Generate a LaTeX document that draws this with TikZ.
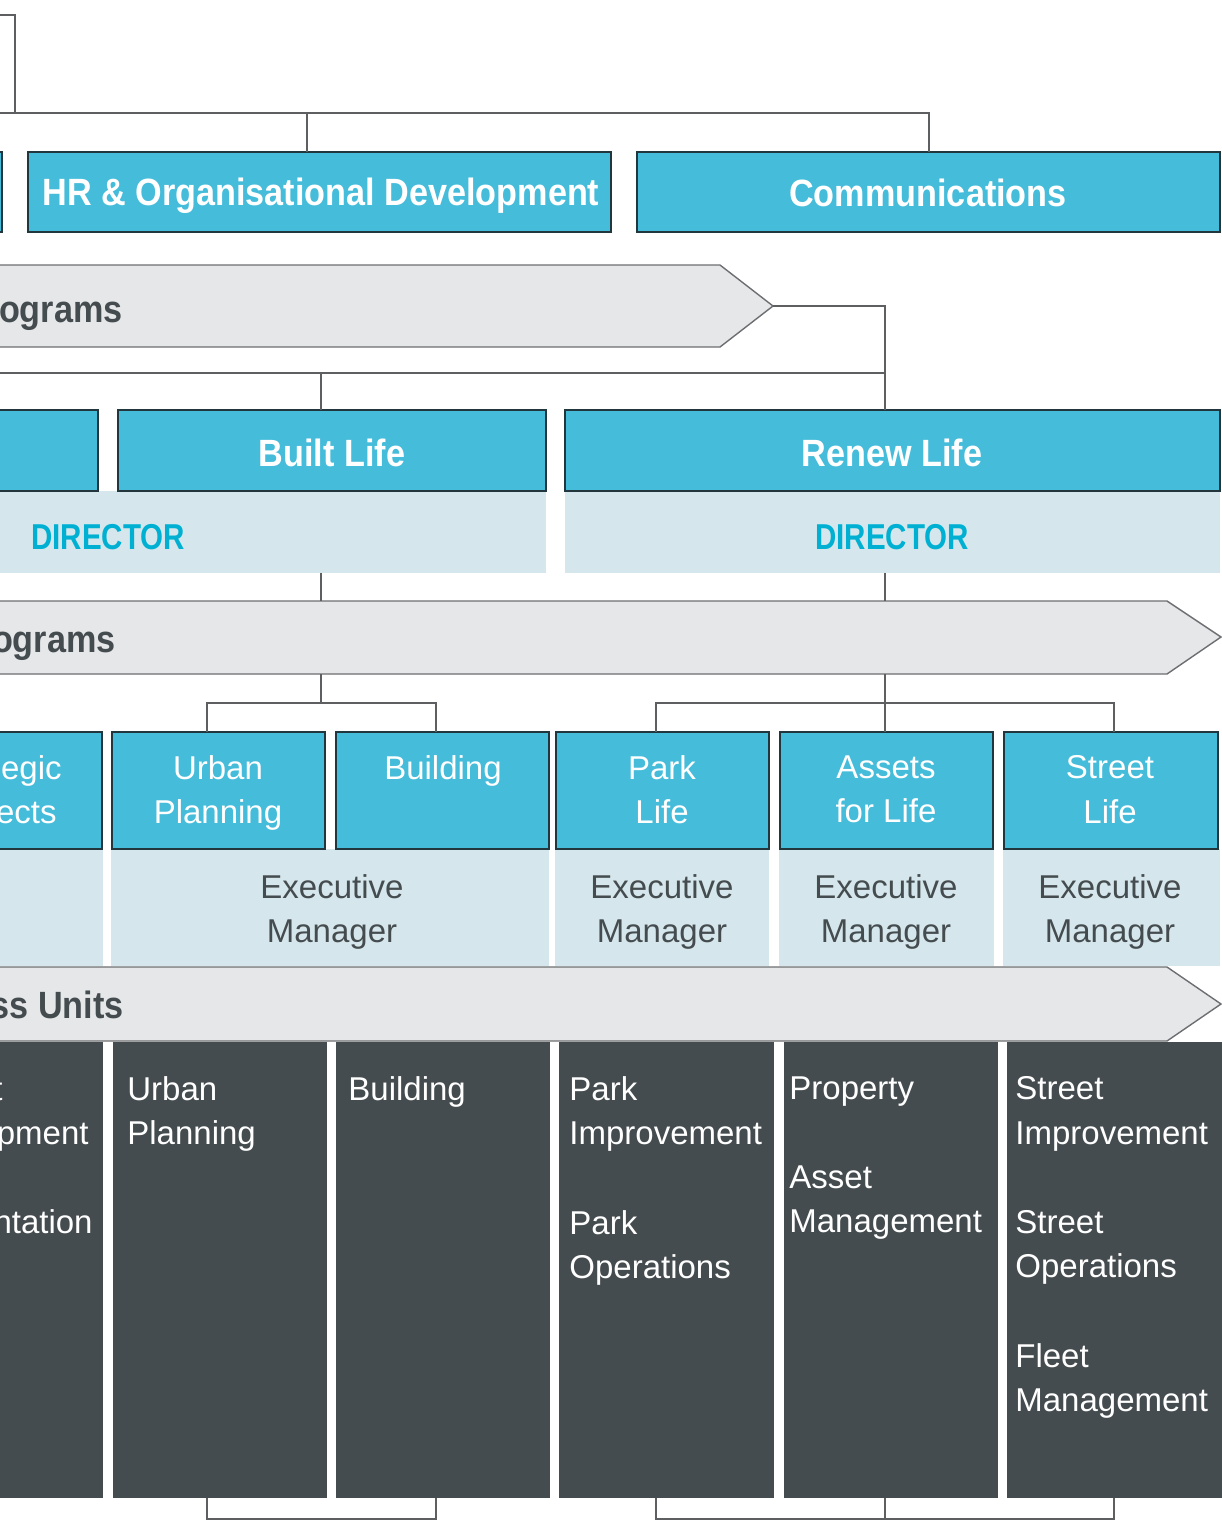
\documentclass[tikz,border=0pt]{standalone}
\usepackage{fontspec}
\setmainfont{Liberation Sans}
\newfontfamily\bcond[FakeStretch=0.9]{Liberation Sans}
\newfontfamily\dcond[FakeStretch=0.82]{Liberation Sans}
\definecolor{cblue}{HTML}{45BCDA}
\definecolor{cborder}{HTML}{22363D}
\definecolor{cband}{HTML}{D5E7EC}
\definecolor{cchev}{HTML}{E6E7E9}
\definecolor{cchevline}{HTML}{6D6E71}
\definecolor{cdark}{HTML}{454C4F}
\definecolor{cdir}{HTML}{00B0D2}
\definecolor{cline}{HTML}{5E5F61}
\newcommand\rbox[6]{%
  \node[#1, minimum width={(#5-#3)*0.5pt}, minimum height={(#6-#4)*0.5pt}] (#2) at ({(#3+#5)/2},{(#4+#6)/2}) {};}
\begin{document}
\begin{tikzpicture}[x=0.5pt,y=-0.5pt,
  bluebox/.style={fill=cblue, draw=cborder, line width=0.6pt, inner sep=0, outer sep=0},
  band/.style={fill=cband, inner sep=0, outer sep=0},
  darkbox/.style={fill=cdark, inner sep=0, outer sep=0},
  chev/.style={fill=cchev, draw=cchevline, line width=0.7pt},
  conn/.style={draw=cline, line width=0.8pt},
  btxt/.style={text=white, font=\bcond\bfseries\fontsize{19}{22}\selectfont, inner sep=0, anchor=base},
  dirtxt/.style={text=cdir, font=\dcond\bfseries\fontsize{18}{22}\selectfont, inner sep=0, anchor=base},
  chevtxt/.style={text=cdark, font=\bcond\bfseries\fontsize{19}{22}\selectfont, inner sep=0, anchor=base east},
  wtxt/.style={text=white, font=\fontsize{16.5}{22.3}\selectfont, inner sep=0, align=center, anchor=north},
  gtxt/.style={text=cdark, font=\fontsize{16.5}{22.3}\selectfont, inner sep=0, align=center, anchor=north},
  ltxt/.style={text=white, font=\fontsize{16.5}{22.3}\selectfont, inner sep=0, align=left, anchor=north west},
  frag/.style={text=white, font=\fontsize{16.5}{22.3}\selectfont, inner sep=0, anchor=base east}
]
\useasboundingbox (0,0) rectangle (1222,1528);
\clip (0,0) rectangle (1222,1528);

% ---------- row 1 ----------
\rbox{bluebox}{lft1}{-60}{152}{2}{232}
\rbox{bluebox}{hr}{28}{152}{611}{232}
\rbox{bluebox}{comms}{637}{152}{1220}{232}

% ---------- chevron 1 ----------
\draw[chev] (-60,265) -- (720,265) -- (773,306) -- (720,347) -- (-60,347) -- cycle;
\coordinate (c1tip) at (773,306);

% ---------- row 2 ----------
\rbox{band}{bdir}{-60}{491}{546}{573}
\rbox{band}{rdir}{565}{491}{1220}{573}
\rbox{bluebox}{lft2}{-60}{410}{98}{491}
\rbox{bluebox}{built}{118}{410}{546}{491}
\rbox{bluebox}{renew}{565}{410}{1220}{491}

% ---------- chevron 2 ----------
\draw[chev] (-60,601) -- (1167,601) -- (1221,637) -- (1167,674) -- (-60,674) -- cycle;

% ---------- row 3 ----------
\rbox{band}{blft}{-60}{849}{103}{966}
\rbox{band}{bub}{111}{849}{549}{966}
\rbox{band}{bpark}{555}{849}{769}{966}
\rbox{band}{bass}{779}{849}{994}{966}
\rbox{band}{bstr}{1003}{849}{1220}{966}
\rbox{bluebox}{lft3}{-60}{732}{102}{849}
\rbox{bluebox}{urb}{112}{732}{325}{849}
\rbox{bluebox}{bld}{336}{732}{549}{849}
\rbox{bluebox}{park}{556}{732}{769}{849}
\rbox{bluebox}{assets}{780}{732}{993}{849}
\rbox{bluebox}{street}{1004}{732}{1218}{849}

% ---------- chevron 3 ----------
\draw[chev] (-60,967) -- (1167,967) -- (1221,1004) -- (1167,1041) -- (-60,1041) -- cycle;

% ---------- business units ----------
\rbox{darkbox}{dlft}{-60}{1042}{103}{1498}
\rbox{darkbox}{durb}{113}{1042}{327}{1498}
\rbox{darkbox}{dbld}{336}{1042}{550}{1498}
\rbox{darkbox}{dpark}{559}{1042}{774}{1498}
\rbox{darkbox}{dprop}{784}{1042}{998}{1498}
\rbox{darkbox}{dstreet}{1007}{1042}{1222}{1498}

% ---------- connectors ----------
\coordinate (t0) at (-5,15);
\coordinate (t1) at (15,113);
\draw[conn] (t0) -| (t1);
\coordinate (h0) at (-5,113);
\coordinate (h1) at (307,113);
\coordinate (hc) at (929,113);
\draw[conn] (h0) -- (hc) -- (hc |- comms.north);
\draw[conn] (h1) -- (h1 |- hr.north);

\coordinate (r1) at (885,373);
\coordinate (h2) at (-5,373);
\coordinate (b1) at (321,373);
\draw[conn] (c1tip) -| (r1) -- (r1 |- renew.north);
\draw[conn] (h2) -- (r1);
\draw[conn] (b1) -- (b1 |- built.north);

\coordinate (d1) at (321,601);
\coordinate (d2) at (885,601);
\draw[conn] (d1 |- bdir.south) -- (d1);
\draw[conn] (d2 |- rdir.south) -- (d2);

\coordinate (c2b1) at (321,674);
\coordinate (ju0) at (321,703);
\coordinate (ju1) at (207,703);
\coordinate (ju2) at (436,703);
\draw[conn] (c2b1) -- (ju0);
\draw[conn] (urb.north -| ju1) -- (ju1) -- (ju2) -- (bld.north -| ju2);

\coordinate (c2b2) at (885,674);
\coordinate (jr1) at (656,703);
\coordinate (jr2) at (1114,703);
\draw[conn] (c2b2) -- (c2b2 |- assets.north);
\draw[conn] (park.north -| jr1) -- (jr1) -- (jr2) -- (street.north -| jr2);

\coordinate (jb1) at (207,1519);
\coordinate (jb2) at (436,1519);
\coordinate (jb3) at (656,1519);
\coordinate (jb4) at (885,1519);
\coordinate (jb5) at (1114,1519);
\draw[conn] (durb.south -| jb1) -- (jb1) -- (jb2) -- (dbld.south -| jb2);
\draw[conn] (dpark.south -| jb3) -- (jb3) -- (jb5) -- (dstreet.south -| jb5);
\draw[conn] (dprop.south -| jb4) -- (jb4);

% ---------- texts ----------
\node[btxt] (thr) at (321,205) {HR \& Organisational Development};
\node[btxt] (tcomms) at (928,206) {Communications};
\node[chevtxt] (tc1) at (123,322) {ograms};
\node[btxt] (tbuilt) at (332,466) {Built Life};
\node[btxt] (trenew) at (892,466) {Renew Life};
\node[dirtxt] (tdir1) at (108,549) {DIRECTOR};
\node[dirtxt] (tdir2) at (892,549) {DIRECTOR};
\node[chevtxt] (tc2) at (116,652) {ograms};

\node[frag] (tl3a) at (62,779) {egic};
\node[frag] (tl3b) at (57,823) {ects};
\node[wtxt] (turb) at (218,755) {Urban\\Planning};
\node[wtxt] (tbld) at (443,755) {Building};
\node[wtxt] (tpark) at (662,755) {Park\\Life};
\node[wtxt] (tass) at (886,755) {Assets\\for Life};
\node[wtxt] (tstr) at (1110,755) {Street\\Life};

\node[gtxt] (em1) at (332,874) {Executive\\Manager};
\node[gtxt] (em2) at (662,874) {Executive\\Manager};
\node[gtxt] (em3) at (886,874) {Executive\\Manager};
\node[gtxt] (em4) at (1110,874) {Executive\\Manager};

\node[chevtxt] (tc3) at (124,1018) {ss Units};

\node[frag] (dl1) at (3,1100) {t};
\node[frag] (dl2) at (89,1144) {pment};
\node[frag] (dl3) at (93,1233) {entation};
\node[ltxt] (du) at (127,1076) {Urban\\Planning};
\node[ltxt] (db) at (348,1076) {Building};
\node[ltxt] (dp) at (569,1076) {Park\\Improvement\\[22.3pt]Park\\Operations};
\node[ltxt] (dpr) at (789,1076) {Property\\[22.3pt]Asset\\Management};
\node[ltxt] (ds) at (1015,1076) {Street\\Improvement\\[22.3pt]Street\\Operations\\[22.3pt]Fleet\\Management};
\end{tikzpicture}
\end{document}
